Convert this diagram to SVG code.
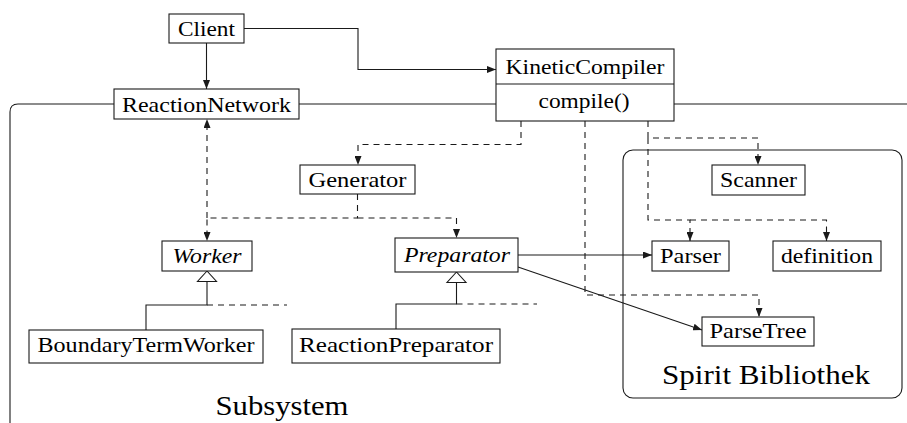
<svg xmlns="http://www.w3.org/2000/svg" width="907" height="423" viewBox="0 0 907 423">
  <style>
    .box { fill: #ffffff; stroke: #1a1a1a; stroke-width: 1.1; }
    .frame { fill: none; stroke: #1a1a1a; stroke-width: 1.1; }
    .solid { fill: none; stroke: #1a1a1a; stroke-width: 1.1; }
    .dash { fill: none; stroke: #1a1a1a; stroke-width: 1.1; stroke-dasharray: 6 5; }
    .gen { fill: #ffffff; stroke: #1a1a1a; stroke-width: 1.1; }
  </style>
  <defs>
    <marker id="arr" markerUnits="userSpaceOnUse" markerWidth="9" markerHeight="7" refX="9" refY="3.5" orient="auto">
      <path d="M0,0 L9,3.5 L0,7 z" fill="#1a1a1a"/>
    </marker>
  </defs>

  <!-- package frames -->
  <g id="frames">
    <path class="frame" d="M114,104 H18 Q10,104 10,112 V430"/>
    <path class="frame" d="M299,104 H496"/>
    <path class="frame" d="M674,104 H907"/>
    <rect class="frame" x="623" y="150" width="279" height="248" rx="10"/>
    <text x="282" y="415" font-family="Liberation Serif, serif" font-size="28" text-anchor="middle" textLength="133" lengthAdjust="spacingAndGlyphs">Subsystem</text>
    <text x="766" y="384" font-family="Liberation Serif, serif" font-size="28" text-anchor="middle" textLength="208" lengthAdjust="spacingAndGlyphs">Spirit Bibliothek</text>
  </g>

  <!-- connectors -->
  <g id="connectors">
    <path class="solid" d="M244,28.5 H358 V69.5 H496" marker-end="url(#arr)"/>
    <path class="solid" d="M206.5,43 V89" marker-end="url(#arr)"/>
    <path class="dash" d="M521,121 V144.5 H358 V165" marker-end="url(#arr)"/>
    <path class="dash" d="M357.5,194 V218 H207 V241" marker-end="url(#arr)"/>
    <path class="dash" d="M357.5,218 H456.5 V238" marker-end="url(#arr)"/>
    <path class="dash" d="M207,218 V119" marker-end="url(#arr)"/>
    <path class="dash" d="M585,121 V295 H759 V317" marker-end="url(#arr)"/>
    <path class="dash" d="M648,121 V138 H758 V165" marker-end="url(#arr)"/>
    <path class="dash" d="M648,138 V220 H690 V241" marker-end="url(#arr)"/>
    <path class="dash" d="M690,220 H826.5 V241" marker-end="url(#arr)"/>
    <path class="solid" d="M518,255 H652" marker-end="url(#arr)"/>
    <path class="solid" d="M518,267 L702,330" marker-end="url(#arr)"/>
    <!-- generalisation: Worker -->
    <path class="solid" d="M207,281.5 V305 H146 V330"/>
    <path class="dash" d="M207,305 H287"/>
    <polygon class="gen" points="207,271 197.5,281.5 216.5,281.5"/>
    <!-- generalisation: Preparator -->
    <path class="solid" d="M456.5,282.5 V304 H396 V329"/>
    <path class="dash" d="M456.5,304 H537"/>
    <polygon class="gen" points="456.5,272 447,282.5 466,282.5"/>
  </g>

  <g id="client">
    <rect class="box" x="169" y="14" width="75" height="29"/>
    <text x="206.5" y="36" font-family="Liberation Serif, serif" font-size="21" text-anchor="middle" textLength="57" lengthAdjust="spacingAndGlyphs">Client</text>
  </g>
  <g id="reactionnetwork">
    <rect class="box" x="114" y="89" width="185" height="30"/>
    <text x="206.5" y="112" font-family="Liberation Serif, serif" font-size="21" text-anchor="middle" textLength="169" lengthAdjust="spacingAndGlyphs">ReactionNetwork</text>
  </g>
  <g id="kineticcompiler">
    <rect class="box" x="496" y="49" width="178" height="72"/>
    <line class="solid" x1="496" y1="84" x2="674" y2="84"/>
    <text x="585" y="73.5" font-family="Liberation Serif, serif" font-size="21" text-anchor="middle" textLength="159" lengthAdjust="spacingAndGlyphs">KineticCompiler</text>
    <text x="584" y="108" font-family="Liberation Serif, serif" font-size="21" text-anchor="middle" textLength="91" lengthAdjust="spacingAndGlyphs">compile()</text>
  </g>
  <g id="generator">
    <rect class="box" x="300" y="165" width="115" height="29"/>
    <text x="357.5" y="187" font-family="Liberation Serif, serif" font-size="21" text-anchor="middle" textLength="98" lengthAdjust="spacingAndGlyphs">Generator</text>
  </g>
  <g id="worker">
    <rect class="box" x="162" y="241" width="90" height="30"/>
    <text x="207" y="263" font-family="Liberation Serif, serif" font-size="21" font-style="italic" text-anchor="middle" textLength="69" lengthAdjust="spacingAndGlyphs">Worker</text>
  </g>
  <g id="preparator">
    <rect class="box" x="395" y="238" width="123" height="34"/>
    <text x="457" y="261.5" font-family="Liberation Serif, serif" font-size="21" font-style="italic" text-anchor="middle" textLength="106" lengthAdjust="spacingAndGlyphs">Preparator</text>
  </g>
  <g id="boundarytermworker">
    <rect class="box" x="29" y="330" width="234" height="33"/>
    <text x="146" y="351.5" font-family="Liberation Serif, serif" font-size="21" text-anchor="middle" textLength="217" lengthAdjust="spacingAndGlyphs">BoundaryTermWorker</text>
  </g>
  <g id="reactionpreparator">
    <rect class="box" x="292" y="329" width="208" height="34"/>
    <text x="396" y="351.5" font-family="Liberation Serif, serif" font-size="21" text-anchor="middle" textLength="194" lengthAdjust="spacingAndGlyphs">ReactionPreparator</text>
  </g>
  <g id="scanner">
    <rect class="box" x="712" y="165" width="93" height="30"/>
    <text x="758.5" y="186.5" font-family="Liberation Serif, serif" font-size="21" text-anchor="middle" textLength="77" lengthAdjust="spacingAndGlyphs">Scanner</text>
  </g>
  <g id="parser">
    <rect class="box" x="652" y="241" width="77" height="30"/>
    <text x="690.5" y="262.5" font-family="Liberation Serif, serif" font-size="21" text-anchor="middle" textLength="61" lengthAdjust="spacingAndGlyphs">Parser</text>
  </g>
  <g id="definition">
    <rect class="box" x="773" y="241" width="108" height="30"/>
    <text x="827" y="262.5" font-family="Liberation Serif, serif" font-size="21" text-anchor="middle" textLength="92" lengthAdjust="spacingAndGlyphs">definition</text>
  </g>
  <g id="parsetree">
    <rect class="box" x="702" y="317" width="112" height="29"/>
    <text x="758" y="338" font-family="Liberation Serif, serif" font-size="21" text-anchor="middle" textLength="97" lengthAdjust="spacingAndGlyphs">ParseTree</text>
  </g>
</svg>
